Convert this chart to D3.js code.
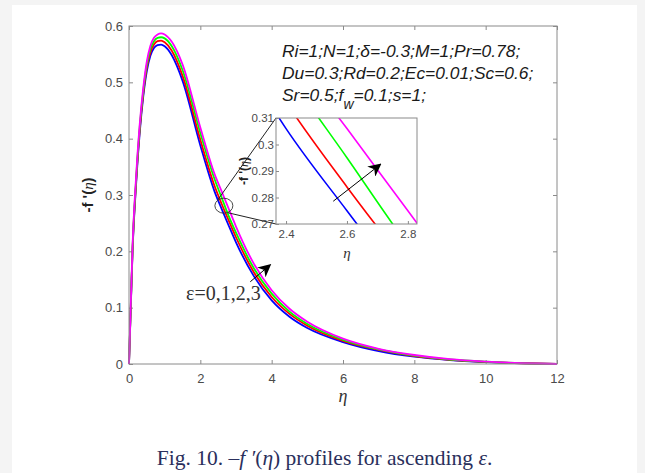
<!DOCTYPE html>
<html>
<head>
<meta charset="utf-8">
<script src="https://cdn.jsdelivr.net/npm/d3@7/dist/d3.min.js"></script>
<style>
  html, body { margin: 0; padding: 0; background: #f4f4f4; }
  svg { display: block; }
</style>
</head>
<body>
<svg id="chart" width="645" height="473"></svg>
<script>
// Similarity variable grid
const eta = [0, 0.05, 0.1, 0.2, 0.3, 0.4, 0.5, 0.6, 0.7, 0.8, 0.9, 1.0, 1.2, 1.5, 2.0, 2.4, 2.6, 2.8, 3.0, 3.5, 4.0, 4.5, 5.0, 6.0, 7.0, 8.0, 9.0, 10.0, 11.0, 12.0];

// -f'(eta) for epsilon = 0, 1, 2, 3
const eps0 = [0, 0.100, 0.200, 0.320, 0.410, 0.475, 0.520, 0.547, 0.561, 0.566, 0.567, 0.564, 0.548, 0.503, 0.388, 0.306, 0.275, 0.245, 0.216, 0.156, 0.113, 0.084, 0.064, 0.039, 0.023, 0.013, 0.0070, 0.0035, 0.0012, 0];
const eps1 = [0, 0.102, 0.203, 0.324, 0.415, 0.480, 0.526, 0.553, 0.567, 0.573, 0.574, 0.571, 0.556, 0.512, 0.398, 0.316, 0.284, 0.254, 0.225, 0.163, 0.119, 0.089, 0.068, 0.041, 0.025, 0.014, 0.0075, 0.0037, 0.0013, 0];
const eps2 = [0, 0.104, 0.206, 0.328, 0.420, 0.485, 0.531, 0.559, 0.573, 0.579, 0.580, 0.578, 0.564, 0.522, 0.410, 0.328, 0.295, 0.262, 0.233, 0.170, 0.125, 0.093, 0.071, 0.043, 0.026, 0.015, 0.0080, 0.0040, 0.0014, 0];
const eps3 = [0, 0.106, 0.210, 0.333, 0.425, 0.490, 0.537, 0.565, 0.579, 0.585, 0.587, 0.585, 0.572, 0.532, 0.420, 0.337, 0.306, 0.275, 0.244, 0.178, 0.131, 0.098, 0.075, 0.045, 0.027, 0.016, 0.0085, 0.0042, 0.0015, 0];

const xTicks = [0, 2, 4, 6, 8, 10, 12];
const yTicks = [0, 0.1, 0.2, 0.3, 0.4, 0.5, 0.6];
const insetXTicks = [2.4, 2.6, 2.8];
const insetYTicks = [0.27, 0.28, 0.29, 0.3, 0.31];

const series = [eps0, eps1, eps2, eps3];
const colors = ["#0000ff", "#ff0000", "#00ff00", "#ff00ff"];

const svg = d3.select("#chart");

// white figure card
svg.append("rect").attr("x", 12).attr("y", 5).attr("width", 625).attr("height", 468).attr("fill", "#ffffff");

const axisColor = "#8a8a8a";
const labelColor = "#4a4a4a";
const sansFont = "'Liberation Sans', Arial, sans-serif";
const serifFont = "'Liberation Serif', 'Times New Roman', serif";

// ---------- main axes ----------
const M = { left: 129, right: 557, top: 26, bottom: 364 };
const x = d3.scaleLinear().domain([0, 12]).range([M.left, M.right]);
const y = d3.scaleLinear().domain([0, 0.6]).range([M.bottom, M.top]);

function fmt(d) { return d === 0 ? "0" : String(+d.toFixed(2)); }

function styleAxis(g, fontSize) {
  g.select(".domain").remove();
  g.selectAll(".tick line").attr("stroke", axisColor).attr("stroke-width", 1);
  g.selectAll(".tick text").attr("fill", labelColor)
    .style("font-family", sansFont).style("font-size", fontSize + "px");
}

const main = svg.append("g");

main.append("g").attr("transform", `translate(0,${M.bottom})`)
  .call(d3.axisBottom(x).tickValues(xTicks).tickSize(-4).tickPadding(10).tickFormat(fmt))
  .call(g => styleAxis(g, 13));
main.append("g").attr("transform", `translate(0,${M.top})`)
  .call(d3.axisTop(x).tickValues(xTicks).tickSize(-4).tickFormat(""))
  .call(g => styleAxis(g, 13));
main.append("g").attr("transform", `translate(${M.left},0)`)
  .call(d3.axisLeft(y).tickValues(yTicks).tickSize(-4).tickPadding(6).tickFormat(fmt))
  .call(g => styleAxis(g, 13));
main.append("g").attr("transform", `translate(${M.right},0)`)
  .call(d3.axisRight(y).tickValues(yTicks).tickSize(-4).tickFormat(""))
  .call(g => styleAxis(g, 13));

const line = d3.line()
  .x((d, i) => x(eta[i]))
  .y(d => y(d))
  .curve(d3.curveMonotoneX);

series.forEach((s, k) => {
  main.append("path").attr("d", line(s)).attr("fill", "none")
    .attr("stroke", colors[k]).attr("stroke-width", 1.8);
});

main.append("rect").attr("x", M.left).attr("y", M.top)
  .attr("width", M.right - M.left).attr("height", M.bottom - M.top)
  .attr("fill", "none").attr("stroke", axisColor).attr("stroke-width", 1);

// axis titles
main.append("text").attr("x", x(6)).attr("y", 402).attr("text-anchor", "middle")
  .style("font-family", serifFont)
  .style("font-style", "italic").style("font-size", "18px").attr("fill", "#333")
  .text("η");

const yTitle = main.append("text").attr("transform", `translate(93,${y(0.3)}) rotate(-90)`)
  .attr("text-anchor", "middle")
  .style("font-family", sansFont).style("font-weight", "bold").style("font-size", "15px").attr("fill", "#222");
yTitle.append("tspan").text("-f '(");
yTitle.append("tspan").style("font-family", serifFont).style("font-style", "italic").style("font-weight", "normal").text("η");
yTitle.append("tspan").text(")");

// parameter annotation
const ann = main.append("g")
  .style("font-family", sansFont).style("font-style", "italic").style("font-size", "17.4px").attr("fill", "#1a1a1a");
ann.append("text").attr("x", 282).attr("y", 57).text("Ri=1;N=1;δ=-0.3;M=1;Pr=0.78;");
ann.append("text").attr("x", 282).attr("y", 79).text("Du=0.3;Rd=0.2;Ec=0.01;Sc=0.6;");
const l3 = ann.append("text").attr("x", 282).attr("y", 100.5);
l3.append("tspan").text("Sr=0.5;f");
l3.append("tspan").attr("dy", 8).style("font-size", "14px").text("w");
l3.append("tspan").attr("dy", -8).text("=0.1;s=1;");

// epsilon label and arrow
main.append("text").attr("x", 186).attr("y", 300)
  .style("font-family", serifFont).style("font-size", "20px").attr("fill", "#333")
  .text("ε=0,1,2,3");

const defs = svg.append("defs");
defs.append("marker").attr("id", "head2").attr("viewBox", "0 0 10 10")
  .attr("refX", 9).attr("refY", 5).attr("markerWidth", 13).attr("markerHeight", 13)
  .attr("markerUnits", "userSpaceOnUse").attr("orient", "auto")
  .append("path").attr("d", "M0,0 L10,5 L0,10 L3,5 Z").attr("fill", "#000");

main.append("line").attr("x1", x(3.4)).attr("y1", y(0.146)).attr("x2", x(3.96)).attr("y2", y(0.176))
  .attr("stroke", "#000").attr("stroke-width", 1).attr("marker-end", "url(#head2)");

// ---------- zoom region marker ----------
const zoomCx = x(2.66), zoomCy = y(0.281);
main.append("ellipse").attr("cx", zoomCx).attr("cy", zoomCy).attr("rx", 9).attr("ry", 7.5)
  .attr("fill", "none").attr("stroke", "#333").attr("stroke-width", 0.9);

// ---------- inset axes ----------
const I = { left: 276, right: 417, top: 118, bottom: 224 };
const xi = d3.scaleLinear().domain([2.367, 2.83]).range([I.left, I.right]);
const yi = d3.scaleLinear().domain([0.27, 0.31]).range([I.bottom, I.top]);

// connectors from the marker to the inset
main.append("line").attr("x1", zoomCx - 6).attr("y1", zoomCy - 6).attr("x2", I.left).attr("y2", I.top)
  .attr("stroke", "#222").attr("stroke-width", 1);
main.append("line").attr("x1", zoomCx + 4).attr("y1", zoomCy + 7).attr("x2", I.left).attr("y2", I.bottom)
  .attr("stroke", "#222").attr("stroke-width", 1);

const inset = svg.append("g");
inset.append("rect").attr("x", I.left).attr("y", I.top)
  .attr("width", I.right - I.left).attr("height", I.bottom - I.top).attr("fill", "#fff");

defs.append("clipPath").attr("id", "insetClip").append("rect")
  .attr("x", I.left).attr("y", I.top).attr("width", I.right - I.left).attr("height", I.bottom - I.top);

const lineI = d3.line()
  .x((d, i) => xi(eta[i]))
  .y(d => yi(d))
  .curve(d3.curveMonotoneX);

const insetLines = inset.append("g").attr("clip-path", "url(#insetClip)");
series.forEach((s, k) => {
  insetLines.append("path").attr("d", lineI(s)).attr("fill", "none")
    .attr("stroke", colors[k]).attr("stroke-width", 1.6);
});

inset.append("g").attr("transform", `translate(0,${I.bottom})`)
  .call(d3.axisBottom(xi).tickValues(insetXTicks).tickSize(-3).tickPadding(6).tickFormat(fmt))
  .call(g => styleAxis(g, 11.5));
inset.append("g").attr("transform", `translate(${I.left},0)`)
  .call(d3.axisLeft(yi).tickValues(insetYTicks).tickSize(-3).tickPadding(2).tickFormat(fmt))
  .call(g => styleAxis(g, 11.5));

inset.append("rect").attr("x", I.left).attr("y", I.top)
  .attr("width", I.right - I.left).attr("height", I.bottom - I.top)
  .attr("fill", "none").attr("stroke", axisColor).attr("stroke-width", 1);

inset.append("text").attr("x", xi(2.6)).attr("y", 258).attr("text-anchor", "middle")
  .style("font-family", serifFont)
  .style("font-style", "italic").style("font-size", "15px").attr("fill", "#333").text("η");

const yTitleI = inset.append("text").attr("transform", `translate(248,${yi(0.29)}) rotate(-90)`)
  .attr("text-anchor", "middle")
  .style("font-family", sansFont).style("font-weight", "bold").style("font-size", "12px").attr("fill", "#222");
yTitleI.append("tspan").text("-f '(");
yTitleI.append("tspan").style("font-family", serifFont).style("font-style", "italic").style("font-weight", "normal").text("η");
yTitleI.append("tspan").text(")");

inset.append("line").attr("x1", xi(2.555)).attr("y1", yi(0.2786)).attr("x2", xi(2.71)).attr("y2", yi(0.2925))
  .attr("stroke", "#000").attr("stroke-width", 1).attr("marker-end", "url(#head2)");

// ---------- caption ----------
const cap = svg.append("text").attr("x", 324.5).attr("y", 465).attr("text-anchor", "middle")
  .style("font-family", serifFont).style("font-size", "21.5px")
  .attr("fill", "#2a2f5c");
cap.append("tspan").text("Fig. 10. –");
cap.append("tspan").style("font-style", "italic").text("f ′");
cap.append("tspan").text("(");
cap.append("tspan").style("font-style", "italic").text("η");
cap.append("tspan").text(") profiles for ascending ");
cap.append("tspan").style("font-style", "italic").text("ε");
cap.append("tspan").text(".");
</script>
</body>
</html>
